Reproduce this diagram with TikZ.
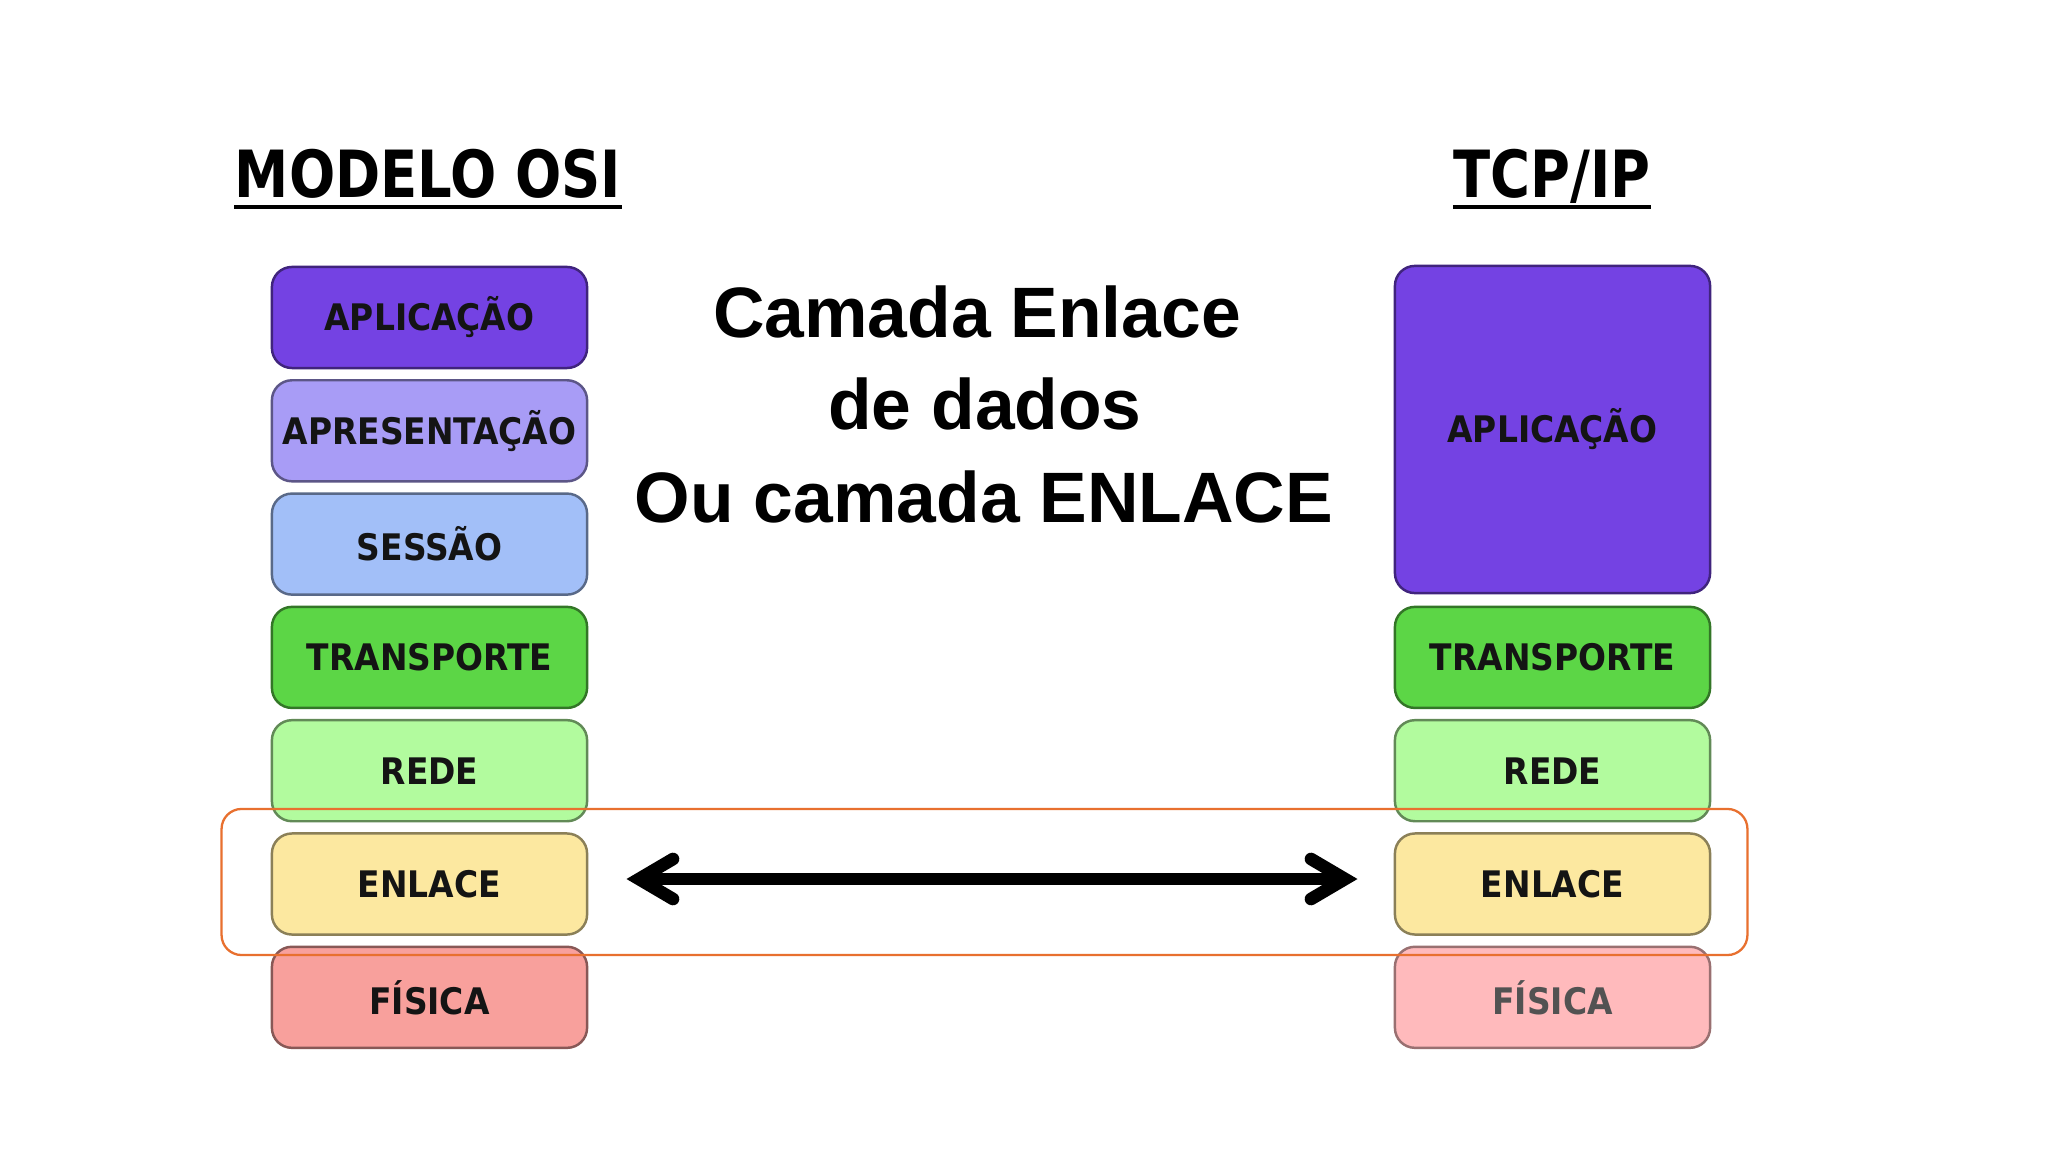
\documentclass[tikz,border=0pt]{standalone}
\usepackage{fontspec}
\setmainfont{Liberation Sans}
\newfontfamily\dinfont{DejaVu Sans Condensed}
\definecolor{cApl}{HTML}{7442E3}
\definecolor{cApr}{HTML}{A89CF6}
\definecolor{cSes}{HTML}{A2BFF8}
\definecolor{cTra}{HTML}{5CD646}
\definecolor{cRed}{HTML}{B2FB9E}
\definecolor{cEnl}{HTML}{FCE8A0}
\definecolor{cFis}{HTML}{F8A09C}
\definecolor{cFis2}{HTML}{FFBABC}
\definecolor{cOrange}{HTML}{E8702F}
\tikzset{
  layer/.style={draw=#1!55!black, fill=#1, line width=0.7pt, rounded corners=0.2cm,
    minimum width=3.15cm, minimum height=1.01cm, inner sep=0pt,
    font=\dinfont\bfseries\fontsize{10.4}{12}\selectfont, text=black!92},
  title/.style={font=\dinfont\bfseries\fontsize{18.5}{22}\selectfont, inner sep=0pt, anchor=base},
  ulinestyle/.style={line width=1.4pt, black},
  bigtext/.style={font=\bfseries\fontsize{20.3}{24}\selectfont, inner sep=0pt, anchor=base},
  barrow/.style={line width=3.6pt, black},
  barb/.style={line width=3.6pt, black, line cap=round, line join=miter},
  highlight/.style={draw=cOrange, line width=0.65pt, rounded corners=0.2cm,
    minimum width=15.25cm, minimum height=1.46cm, inner sep=0pt}
}
\begin{document}
\begin{tikzpicture}[x=0.01cm,y=-0.01cm]
\useasboundingbox (0,0) rectangle (2048,1152);
\fill[white] (0,0) rectangle (2048,1152);
% titles
\node[title] (osi) at (428,198) {\scalebox{0.93}[1]{MODELO OSI}};
\node[title] (tcp) at (1552,198) {\scalebox{0.93}[1]{TCP/IP}};
\draw[ulinestyle] ([yshift=-0.09cm]osi.base west) -- ([yshift=-0.09cm]osi.base east);
\draw[ulinestyle] ([yshift=-0.09cm]tcp.base west) -- ([yshift=-0.09cm]tcp.base east);
% OSI column
\node[layer=cApl] (o1) at (429.5,317.5) {APLICAÇÃO};
\node[layer=cApr] (o2) at (429.5,430.8) {APRESENTAÇÃO};
\node[layer=cSes] (o3) at (429.5,544.1) {SESSÃO};
\node[layer=cTra] (o4) at (429.5,657.4) {TRANSPORTE};
\node[layer=cRed] (o5) at (429.5,770.7) {REDE};
\node[layer=cEnl] (o6) at (429.5,884.0) {ENLACE};
\node[layer=cFis] (o7) at (429.5,997.3) {FÍSICA};
% TCP/IP column
\node[layer=cApl, minimum height=3.27cm] (t1) at (1552.5,429.5) {APLICAÇÃO};
\node[layer=cTra] (t4) at (1552.5,657.4) {TRANSPORTE};
\node[layer=cRed] (t5) at (1552.5,770.7) {REDE};
\node[layer=cEnl] (t6) at (1552.5,884.0) {ENLACE};
\node[layer=cFis2, draw=cFis2!60!black, text=black!68] (t7) at (1552.5,997.3) {FÍSICA};
% central text
\node[bigtext] (l1) at (977,338) {Camada Enlace};
\node[bigtext] (l2) at (985,430) {de dados};
\node[bigtext] (l3) at (984,523) {Ou camada ENLACE};
% highlight
\node[highlight] (hl) at (984.5,882) {};
% double arrow
\coordinate (al) at (639,879);
\coordinate (ar) at (1345,879);
\draw[barrow] (al) -- (ar);
\draw[barb] ([shift={(34,-20)}]al) -- (al) -- ([shift={(34,20)}]al);
\draw[barb] ([shift={(-34,-20)}]ar) -- (ar) -- ([shift={(-34,20)}]ar);
\end{tikzpicture}
\end{document}
